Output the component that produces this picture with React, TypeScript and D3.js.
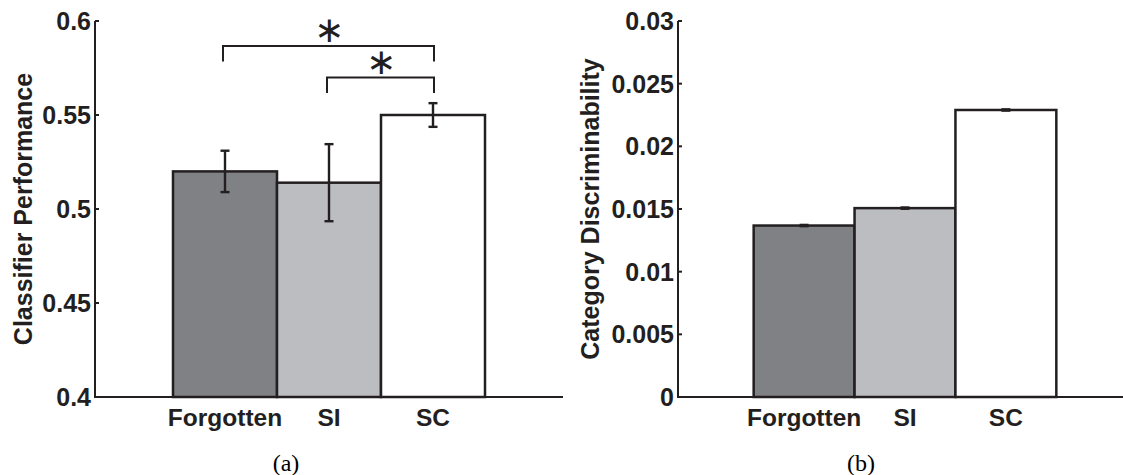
import React from "react";
import * as d3 from "d3";

const categories = ["Forgotten", "SI", "SC"];
const perfMeans = [0.52, 0.514, 0.55];
const perfErrors = [0.011, 0.0205, 0.0063];
const perfTicks = [0.4, 0.45, 0.5, 0.55, 0.6];
const discMeans = [0.01368, 0.01507, 0.0229];
const discErrors = [0.00005, 0.00005, 0.00005];
const discTicks = [0, 0.005, 0.01, 0.015, 0.02, 0.025, 0.03];
const barColors = ["#808185", "#bcbdc1", "#ffffff"];
// pairs of category indexes marked as significant, drawn top to bottom
const sigPairs = [
  [0, 2],
  [1, 2]
];

const INK = "#231f20";
const FONT = "'Liberation Sans', Arial, Helvetica, sans-serif";

function BarPanel(props) {
  const {
    means,
    errors,
    ticks,
    domain,
    xRange,
    yRange,
    yLabel,
    yLabelX,
    caption,
    captionX,
    brackets
  } = props;

  const xScale = d3
    .scaleBand()
    .domain(categories)
    .range(xRange)
    .paddingInner(0)
    .paddingOuter(0.75);
  const yScale = d3.scaleLinear().domain(domain).range(yRange);

  const [left, right] = xRange;
  const [bottom, top] = yRange;
  const bw = xScale.bandwidth();
  const cx = i => xScale(categories[i]) + bw / 2;
  const fmt = v => String(+v.toFixed(3));

  return (
    <g>
      {categories.map((c, i) => (
        <rect
          key={c}
          x={xScale(c)}
          y={yScale(means[i])}
          width={bw}
          height={bottom - yScale(means[i])}
          fill={barColors[i]}
          stroke={INK}
          strokeWidth={2.5}
        />
      ))}
      {categories.map((c, i) => {
        const y1 = yScale(means[i] + errors[i]);
        const y2 = yScale(means[i] - errors[i]);
        return (
          <g key={c} stroke={INK} strokeWidth={2.4}>
            <line x1={cx(i)} x2={cx(i)} y1={y1} y2={y2} />
            <line x1={cx(i) - 4.5} x2={cx(i) + 4.5} y1={y1} y2={y1} />
            <line x1={cx(i) - 4.5} x2={cx(i) + 4.5} y1={y2} y2={y2} />
          </g>
        );
      })}
      <line x1={left} x2={left} y1={top} y2={bottom} stroke={INK} strokeWidth={2} />
      <line x1={left - 1} x2={right} y1={bottom} y2={bottom} stroke={INK} strokeWidth={2} />
      {ticks.map(t => (
        <g key={t}>
          <line x1={left} x2={left + 4} y1={yScale(t)} y2={yScale(t)} stroke={INK} strokeWidth={2} />
          <text
            x={left - 4}
            y={yScale(t)}
            dy="0.36em"
            textAnchor="end"
            fontFamily={FONT}
            fontWeight="bold"
            fontSize={25}
            fill={INK}
          >
            {fmt(t)}
          </text>
        </g>
      ))}
      {categories.map((c, i) => (
        <text
          key={c}
          x={cx(i)}
          y={426}
          textAnchor="middle"
          fontFamily={FONT}
          fontWeight="bold"
          fontSize={24.5}
          fill={INK}
        >
          {c}
        </text>
      ))}
      <text
        transform={`translate(${yLabelX},${(top + bottom) / 2}) rotate(-90)`}
        textAnchor="middle"
        fontFamily={FONT}
        fontWeight="bold"
        fontSize={25}
        fill={INK}
      >
        {yLabel}
      </text>
      <text
        x={captionX}
        y={471}
        textAnchor="middle"
        fontFamily="'Liberation Serif', 'Times New Roman', serif"
        fontSize={24}
        fill="#000"
      >
        {caption}
      </text>
      {brackets.map(([a, b], k) => {
        const yb = 46 + k * 31.5;
        return (
          <g key={k}>
            <path
              d={`M${cx(a) - 2},${yb + 15.5}V${yb}H${cx(b) + 1}V${yb + 15.5}`}
              fill="none"
              stroke={INK}
              strokeWidth={2}
            />
            <text
              x={(cx(a) + cx(b)) / 2}
              y={yb - 4}
              textAnchor="middle"
              fontFamily="'DejaVu Sans', sans-serif"
              fontSize={36}
              fill={INK}
            >
              ∗
            </text>
          </g>
        );
      })}
    </g>
  );
}

export default function App() {
  return (
    <svg
      width={1123}
      height={475}
      style={{ position: "absolute", left: 0, top: 0, background: "#fff" }}
    >
      <BarPanel
        means={perfMeans}
        errors={perfErrors}
        ticks={perfTicks}
        domain={[0.4, 0.6]}
        xRange={[95, 563]}
        yRange={[397, 21]}
        yLabel="Classifier Performance"
        yLabelX={32}
        caption="(a)"
        captionX={286}
        brackets={sigPairs}
      />
      <BarPanel
        means={discMeans}
        errors={discErrors}
        ticks={discTicks}
        domain={[0, 0.03]}
        xRange={[678, 1132]}
        yRange={[397, 21]}
        yLabel="Category Discriminability"
        yLabelX={599}
        caption="(b)"
        captionX={861}
        brackets={[]}
      />
    </svg>
  );
}
